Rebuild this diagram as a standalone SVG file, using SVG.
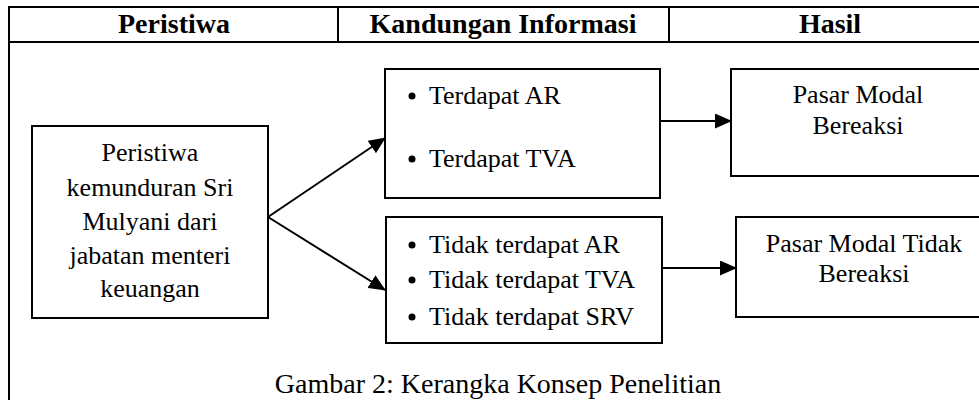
<svg xmlns="http://www.w3.org/2000/svg" width="979" height="400" viewBox="0 0 979 400">
<style>
.ln{stroke:#000;stroke-width:2;fill:none}
.box{stroke:#000;stroke-width:2;fill:#fff}
.t{font-family:"Liberation Serif","Times New Roman",serif;font-size:26px;fill:#000}
.h{font-family:"Liberation Serif","Times New Roman",serif;font-size:28px;font-weight:bold;fill:#000;text-anchor:middle}
.c{text-anchor:middle}
</style>
<defs>
<marker id="arr" markerWidth="17" markerHeight="15" refX="16" refY="7.5" orient="auto" markerUnits="userSpaceOnUse">
<path d="M0,0 L17,7.5 L0,15 Z" fill="#000"/>
</marker>
</defs>
<rect width="979" height="400" fill="#fff"/>
<g id="frame">
<path class="ln" d="M9,400 V7 H990 M9,42 H990 M338,7 V42 M669,7 V42"/>
<text class="h" x="174" y="33">Peristiwa</text>
<text class="h" x="503" y="33">Kandungan Informasi</text>
<text class="h" x="830" y="33">Hasil</text>
</g>
<g id="peristiwa">
<rect class="box" x="32" y="126" width="236" height="192"/>
<text class="t c" x="150" y="161">Peristiwa</text>
<text class="t c" x="150" y="196">kemunduran Sri</text>
<text class="t c" x="150" y="230">Mulyani dari</text>
<text class="t c" x="150" y="264">jabatan menteri</text>
<text class="t c" x="150" y="297">keuangan</text>
</g>
<g id="info-ada">
<rect class="box" x="385" y="69" width="275" height="129"/>
<circle cx="412" cy="96" r="3.5"/>
<text class="t" x="429" y="104">Terdapat AR</text>
<circle cx="412" cy="159" r="3.5"/>
<text class="t" x="429" y="167">Terdapat TVA</text>
</g>
<g id="info-tidak">
<rect class="box" x="386" y="217" width="276" height="126"/>
<circle cx="412" cy="245" r="3.5"/>
<text class="t" x="429" y="253">Tidak terdapat AR</text>
<circle cx="412" cy="280" r="3.5"/>
<text class="t" x="429" y="288">Tidak terdapat TVA</text>
<circle cx="412" cy="317" r="3.5"/>
<text class="t" x="429" y="325">Tidak terdapat SRV</text>
</g>
<g id="hasil-bereaksi">
<rect class="box" x="731" y="69" width="260" height="107"/>
<text class="t c" x="858" y="103">Pasar Modal</text>
<text class="t c" x="858" y="134">Bereaksi</text>
</g>
<g id="hasil-tidak">
<rect class="box" x="736" y="217" width="260" height="100"/>
<text class="t c" x="864" y="252">Pasar Modal Tidak</text>
<text class="t c" x="864" y="282">Bereaksi</text>
</g>
<g id="connectors">
<line class="ln" x1="268" y1="217" x2="385" y2="138" marker-end="url(#arr)"/>
<line class="ln" x1="268" y1="217" x2="385" y2="290" marker-end="url(#arr)"/>
<line class="ln" x1="661" y1="121" x2="731" y2="121" marker-end="url(#arr)"/>
<line class="ln" x1="663" y1="268" x2="736" y2="268" marker-end="url(#arr)"/>
</g>
<text class="t c" x="498" y="393" style="font-size:28px">Gambar 2: Kerangka Konsep Penelitian</text>
</svg>
